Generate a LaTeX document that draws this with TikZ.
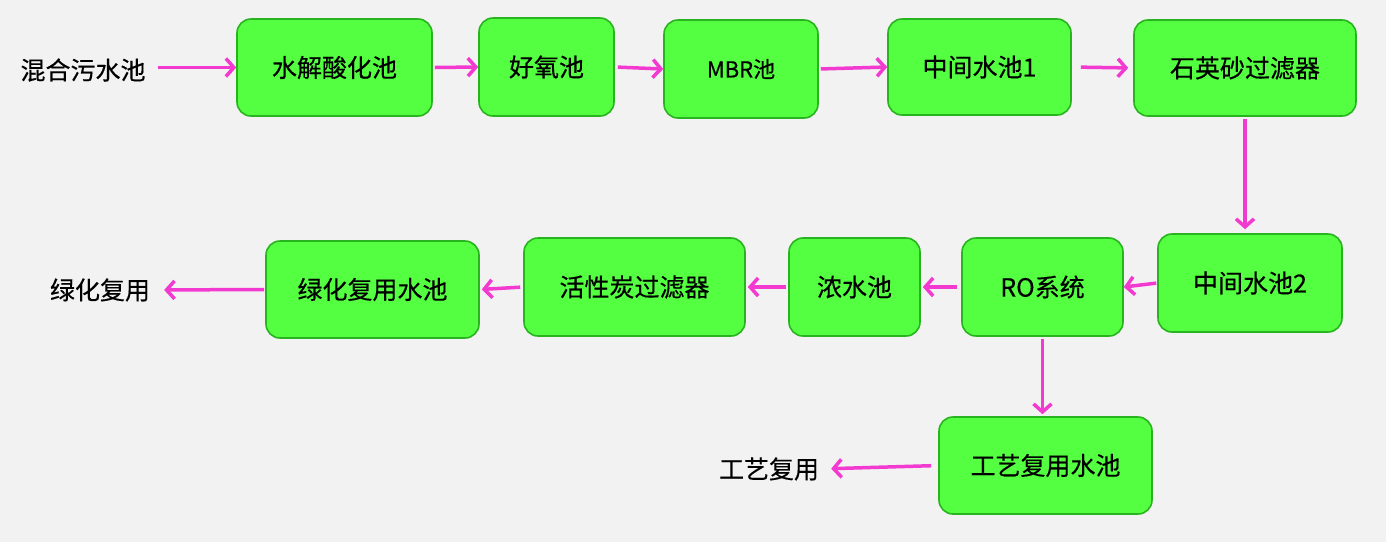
\documentclass[tikz,border=0pt]{standalone}
\usepackage{fontspec}
\setmainfont{Noto Sans CJK SC}[FakeBold=0.4]
\usetikzlibrary{arrows.meta}
\definecolor{bg}{RGB}{242,242,242}
\definecolor{boxfill}{RGB}{83,255,64}
\definecolor{boxline}{RGB}{40,180,30}
\definecolor{arrcol}{RGB}{242,58,208}
\begin{document}
\begin{tikzpicture}[x=1pt,y=-1pt,
  every node/.style={font=\fontsize{25}{29}\selectfont},
  box/.style={draw=boxline,fill=boxfill,line width=1.6pt,rounded corners=14pt,inner sep=0pt,anchor=center},
  lbl/.style={inner sep=0pt},
  arr/.style={draw=arrcol,line width=3.5pt,-{Straight Barb[length=8pt,width=18pt,line width=3.5pt]}}]
\fill[bg] (0,0) rectangle (1386,542);
\useasboundingbox (0,0) rectangle (1386,542);
\node[box,minimum width=195pt,minimum height=97pt] (n1) at (334.5,67.5) {水解酸化池};
\node[box,minimum width=135pt,minimum height=98pt] (n2) at (546.5,67) {好氧池};
\node[box,minimum width=154pt,minimum height=98pt] (n3) at (741,69) {\fontsize{22}{26}\selectfont MBR池};
\node[box,minimum width=183pt,minimum height=96pt] (n4) at (979.5,67) {中间水池1};
\node[box,minimum width=222pt,minimum height=96pt] (n5) at (1245,68) {石英砂过滤器};
\node[box,minimum width=184pt,minimum height=98pt] (n6) at (1250,283) {中间水池2};
\node[box,minimum width=161pt,minimum height=98pt] (n7) at (1042.5,287) {RO系统};
\node[box,minimum width=131pt,minimum height=98pt] (n8) at (854.5,287) {浓水池};
\node[box,minimum width=221pt,minimum height=98pt] (n9) at (634.5,287) {活性炭过滤器};
\node[box,minimum width=213pt,minimum height=97pt] (n10) at (372.5,289.5) {绿化复用水池};
\node[box,minimum width=213pt,minimum height=97pt] (n11) at (1045.5,465.5) {工艺复用水池};
\node[lbl] (src) at (83,70) {混合污水池};
\node[lbl] (out1) at (100,290) {绿化复用};
\node[lbl] (out2) at (769,469) {工艺复用};
\draw[arr,shorten <=12pt] (src.east |- n1.west) -- (n1.west);
\draw[arr,shorten <=2pt] (n1.east) -- (n2.west);
\draw[arr,shorten <=3pt] (n2.east) -- (n3.west);
\draw[arr,shorten <=2pt] (n3.east) -- (n4.west);
\draw[arr,shorten <=9pt,shorten >=5pt] (n4.east) -- (n5.west);
\draw[arr,shorten <=2pt,shorten >=4pt] (n5.south) -- (n5.south |- n6.north);
\draw[arr,shorten <=1pt] (n6.west) -- (n7.east);
\draw[arr,shorten <=4pt,shorten >=2pt] (n7.west) -- (n8.east);
\draw[arr,shorten <=2pt,shorten >=2pt] (n8.west) -- (n9.east);
\draw[arr,shorten <=3pt,shorten >=2pt] (n9.west) -- (n10.east);
\draw[arr,shorten <=1pt,shorten >=14pt] (n10.west) -- (out1.east);
\draw[arr,shorten <=2pt,shorten >=2pt] (n7.south) -- (n7.south |- n11.north);
\draw[arr,shorten <=7pt,shorten >=12pt] (n11.west) -- (out2.east);
\end{tikzpicture}
\end{document}
